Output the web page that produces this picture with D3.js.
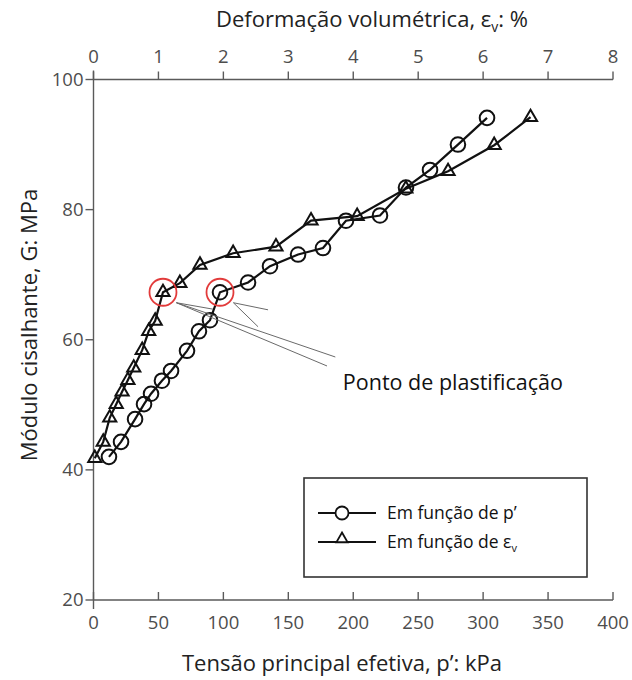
<!DOCTYPE html>
<html>
<head>
<meta charset="utf-8">
<script src="https://cdn.jsdelivr.net/npm/d3@7/dist/d3.min.js"></script>
<style>
  html, body { margin: 0; padding: 0; background: #fff; }
  svg { display: block; }
  text { font-family: "Open Sans", "Noto Sans", sans-serif; }
</style>
</head>
<body>
<svg id="chart" width="632" height="680"></svg>
<script>
// ---- data ----
const pValues = [11.9, 21.2, 32.0, 38.9, 44.3, 52.7, 59.7, 72.0, 81.2, 89.7, 97.4, 119.0, 135.9, 157.5, 176.7, 194.4, 220.6, 240.6, 259.1, 280.6, 303.0];
const gByP    = [42.0, 44.3, 47.8, 50.1, 51.7, 53.7, 55.2, 58.3, 61.3, 63.0, 67.3, 68.8, 71.3, 73.1, 74.1, 78.3, 79.1, 83.4, 86.1, 90.0, 94.1];
const evValues = [0.02, 0.15, 0.25, 0.35, 0.44, 0.53, 0.62, 0.75, 0.85, 0.95, 1.07, 1.33, 1.64, 2.15, 2.81, 3.35, 4.06, 4.81, 5.46, 6.17, 6.73];
const gByEv    = [41.8, 44.3, 48.0, 50.1, 52.0, 53.8, 55.7, 58.4, 61.3, 62.9, 67.3, 68.7, 71.5, 73.3, 74.3, 78.3, 79.0, 83.2, 85.9, 89.9, 94.2];
const bottomTicks = [0, 50, 100, 150, 200, 250, 300, 350, 400];
const topTicks = [0, 1, 2, 3, 4, 5, 6, 7, 8];
const leftTicks = [20, 40, 60, 80, 100];
const yieldIndexP = 10;   // ponto de plastificação (p')
const yieldIndexEv = 10;  // ponto de plastificação (εv)
const seriesLabels = ["Em função de p\u2019", "Em função de \u03b5"];

// annotation (data units of p' / G)
const annotText = "Ponto de plastificação";
const annotPos = {p: 192, g: 52.3};
const arrowsFromEv = [{p: 186.2, g: 57.35}, {p: 179.8, g: 55.97}, {p: 92, g: 64.7}];
const arrowsFromP = [{p: 134.4, g: 64.6}, {p: 126.7, g: 62.0}];

// ---- layout ----
const svg = d3.select("#chart");
const X0 = 93.5, X1 = 613, YT = 79.5, YB = 600;
const xP = d3.scaleLinear().domain([0, 400]).range([X0, X1]);
const xEv = d3.scaleLinear().domain([0, 8]).range([X0, X1]);
const yG = d3.scaleLinear().domain([20, 100]).range([YB, YT]);

const axisColor = "#5a5a5a";
const labelColor = "#4d4d4d";
const tickFont = 18.5;
const titleFont = 22;

// axes lines
const ax = svg.append("g").attr("stroke", axisColor).attr("stroke-width", 1.4).attr("fill", "none");
ax.append("line").attr("x1", X0).attr("x2", X0).attr("y1", YT - 9).attr("y2", YB + 9);
ax.append("line").attr("x1", X0).attr("x2", X1).attr("y1", YT).attr("y2", YT);
ax.append("line").attr("x1", X0).attr("x2", X1).attr("y1", YB).attr("y2", YB);

// left ticks
leftTicks.forEach(t => {
  ax.append("line").attr("x1", X0 - 8).attr("x2", X0).attr("y1", yG(t)).attr("y2", yG(t));
  svg.append("text").attr("x", X0 - 10).attr("y", yG(t)).attr("dy", "0.35em")
    .attr("text-anchor", "end").attr("font-size", tickFont).attr("fill", labelColor).text(t);
});
// top ticks
topTicks.forEach(t => {
  ax.append("line").attr("x1", xEv(t)).attr("x2", xEv(t)).attr("y1", YT - 8).attr("y2", YT);
  svg.append("text").attr("x", xEv(t)).attr("y", YT - 17)
    .attr("text-anchor", "middle").attr("font-size", tickFont).attr("fill", labelColor).text(t);
});
// bottom ticks
bottomTicks.forEach(t => {
  ax.append("line").attr("x1", xP(t)).attr("x2", xP(t)).attr("y1", YB - 8).attr("y2", YB);
  svg.append("text").attr("x", xP(t)).attr("y", YB + 29)
    .attr("text-anchor", "middle").attr("font-size", tickFont).attr("fill", labelColor).text(t);
});

// axis titles
const topTitle = svg.append("text").attr("x", 372).attr("y", 27).attr("text-anchor", "middle")
  .attr("font-size", titleFont).attr("fill", "#222");
topTitle.append("tspan").text("Deformação volumétrica, \u03b5");
topTitle.append("tspan").attr("font-size", 14).attr("dy", 5).text("v");
topTitle.append("tspan").attr("dy", -5).text(": %");

svg.append("text").attr("x", 342).attr("y", 671).attr("text-anchor", "middle")
  .attr("font-size", titleFont).attr("fill", "#222").text("Tensão principal efetiva, p\u2019: kPa");

svg.append("text").attr("transform", "translate(29,325) rotate(-90)").attr("dy", "0.35em").attr("text-anchor", "middle")
  .attr("font-size", titleFont).attr("fill", "#222").text("Módulo cisalhante, G: MPa");

// ---- series ----
const ptsP = pValues.map((p, i) => ({x: xP(p), y: yG(gByP[i])}));
const ptsEv = evValues.map((e, i) => ({x: xEv(e), y: yG(gByEv[i])}));
const line = d3.line().x(d => d.x).y(d => d.y);

svg.append("path").attr("d", line(ptsP)).attr("fill", "none").attr("stroke", "#111").attr("stroke-width", 2.2);
svg.append("path").attr("d", line(ptsEv)).attr("fill", "none").attr("stroke", "#111").attr("stroke-width", 2.2);

svg.append("g").selectAll("circle").data(ptsP).join("circle")
  .attr("cx", d => d.x).attr("cy", d => d.y).attr("r", 7.3)
  .attr("fill", "none").attr("stroke", "#111").attr("stroke-width", 2);

const tri = d3.symbol().type(d3.symbolTriangle).size(75);
svg.append("g").selectAll("path").data(ptsEv).join("path")
  .attr("transform", d => `translate(${d.x},${d.y})`).attr("d", tri())
  .attr("fill", "none").attr("stroke", "#111").attr("stroke-width", 2);

// ---- yield point highlights ----
const yEvPt = ptsEv[yieldIndexEv], yPPt = ptsP[yieldIndexP];
[yEvPt, yPPt].forEach(pt => {
  svg.append("circle").attr("cx", pt.x).attr("cy", pt.y).attr("r", 13.5)
    .attr("fill", "none").attr("stroke", "#e23b3b").attr("stroke-width", 1.8);
});
function edge(pt) {
  const a = Math.PI * 38 / 180;
  return {x: pt.x + 17 * Math.cos(a), y: pt.y + 17 * Math.sin(a)};
}
const sEv = edge(yEvPt), sP = edge(yPPt);
const ann = svg.append("g").attr("stroke", "#6a6a6a").attr("stroke-width", 1);
arrowsFromEv.forEach(a => ann.append("line").attr("x1", sEv.x).attr("y1", sEv.y).attr("x2", xP(a.p)).attr("y2", yG(a.g)));
arrowsFromP.forEach(a => ann.append("line").attr("x1", sP.x).attr("y1", sP.y).attr("x2", xP(a.p)).attr("y2", yG(a.g)));

svg.append("text").attr("x", xP(annotPos.p)).attr("y", yG(annotPos.g))
  .attr("font-size", 21.5).attr("fill", "#111").text(annotText);

// ---- legend ----
const lg = svg.append("g");
lg.append("rect").attr("x", 304).attr("y", 478).attr("width", 283).attr("height", 99)
  .attr("fill", "#fff").attr("stroke", "#333").attr("stroke-width", 1.6);
const rows = [{y: 513, sym: "circle"}, {y: 542, sym: "tri"}];
rows.forEach((r, i) => {
  lg.append("line").attr("x1", 318).attr("x2", 376).attr("y1", r.y).attr("y2", r.y)
    .attr("stroke", "#111").attr("stroke-width", 2.2);
  if (r.sym === "circle") {
    lg.append("circle").attr("cx", 342).attr("cy", r.y).attr("r", 6.5)
      .attr("fill", "#fff").attr("stroke", "#111").attr("stroke-width", 1.8);
  } else {
    lg.append("path").attr("transform", `translate(342,${r.y - 3})`)
      .attr("d", d3.symbol().type(d3.symbolTriangle).size(55)())
      .attr("fill", "#fff").attr("stroke", "#111").attr("stroke-width", 1.8);
  }
  const t = lg.append("text").attr("x", 387).attr("y", r.y).attr("dy", "0.35em")
    .attr("font-size", 17.5).attr("fill", "#111");
  t.append("tspan").text(seriesLabels[i]);
  if (i === 1) t.append("tspan").attr("font-size", 11).attr("dy", 4).text("v");
});
</script>
</body>
</html>
